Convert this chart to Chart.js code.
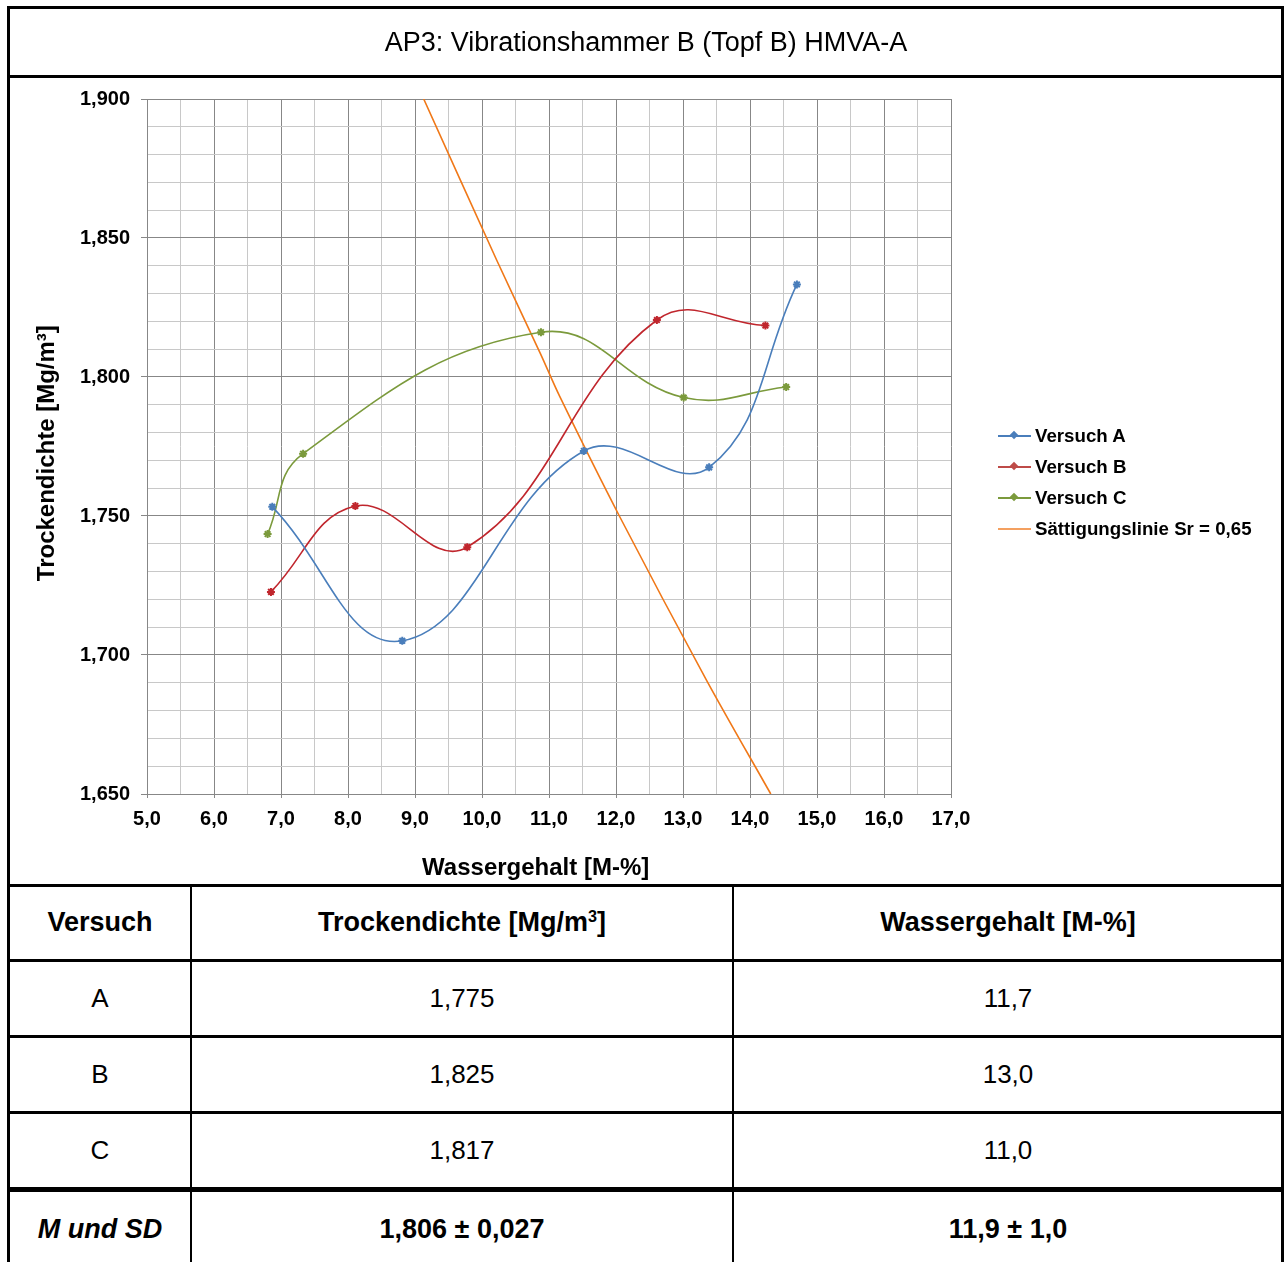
<!DOCTYPE html>
<html>
<head>
<meta charset="utf-8">
<script src="https://cdn.jsdelivr.net/npm/chart.js@4.4.1/dist/chart.umd.min.js"></script>
<style>
  html, body { margin: 0; padding: 0; background: #fff; }
  body { width: 1285px; height: 1262px; position: relative; overflow: hidden; font-family: "Liberation Sans", Arial, sans-serif; color: #000; }
  .ln { position: absolute; background: #000; }
  #chartWrap { position: absolute; left: 0; top: 0; width: 1285px; height: 884px; }
  .txt { position: absolute; transform: translate(-50%, -50%); white-space: nowrap; }
  #title { font-size: 27px; }
  .th { font-size: 27px; font-weight: bold; }
  .td { font-size: 26px; }
  .tb { font-size: 27px; font-weight: bold; }
  .leg { position: absolute; left: 998px; height: 20px; }
  .leg .line { position: absolute; left: 0; top: 9px; width: 33px; height: 2px; }
  .leg .dia { position: absolute; left: 13px; top: 6px; width: 6px; height: 6px; transform: rotate(45deg); }
  .leg .lab { position: absolute; left: 37px; top: -1px; font-size: 18.7px; font-weight: bold; white-space: nowrap; }
</style>
</head>
<body>
<div id="chartWrap"><canvas id="c" width="1285" height="884"></canvas></div>

<div class="ln" style="left:7px;top:6px;width:3px;height:1256px;"></div>
<div class="ln" style="left:1281px;top:6px;width:3px;height:1256px;"></div>
<div class="ln" style="left:7px;top:6px;width:1277px;height:3px;"></div>
<div class="ln" style="left:7px;top:75px;width:1277px;height:3px;"></div>
<div id="title" class="txt" style="left:646px;top:42px;"></div>

<div id="legend"></div>

<div class="ln" style="left:7px;top:884px;width:1277px;height:3px;"></div>
<div class="ln" style="left:7px;top:959px;width:1277px;height:3px;"></div>
<div class="ln" style="left:7px;top:1035px;width:1277px;height:3px;"></div>
<div class="ln" style="left:7px;top:1111px;width:1277px;height:3px;"></div>
<div class="ln" style="left:7px;top:1187px;width:1277px;height:5px;"></div>
<div class="ln" style="left:190px;top:884px;width:2px;height:378px;"></div>
<div class="ln" style="left:732px;top:884px;width:2px;height:378px;"></div>
<div id="table"></div>

<script>
// ---------- data ----------
const chartTitle = "AP3: Vibrationshammer B (Topf B) HMVA-A";
const xAxisTitle = "Wassergehalt [M-%]";
const yAxisTitle = "Trockendichte [Mg/m³]";

const seriesNames = ["Versuch A", "Versuch B", "Versuch C", "Sättigungslinie Sr = 0,65"];

const versuchA_x = [6.87, 8.81, 11.52, 13.39, 14.70];
const versuchA_y = [1.7533, 1.7051, 1.7734, 1.7675, 1.8333];

const versuchB_x = [6.85, 8.11, 9.78, 12.61, 14.23];
const versuchB_y = [1.7227, 1.7536, 1.7388, 1.8205, 1.8185];

const versuchC_x = [6.80, 7.33, 10.88, 13.01, 14.54];
const versuchC_y = [1.7435, 1.7724, 1.8161, 1.7926, 1.7964];

const saett_x = [9.13, 10.22, 10.87, 11.16, 12.05, 13.35, 14.31];
const saett_y = [1.900, 1.842, 1.8085, 1.793, 1.750, 1.691, 1.650];

const xMin = 5.0, xMax = 17.0, xStep = 0.5;
const yMin = 1.650, yMax = 1.900, yStep = 0.01;

const tableHeader = ["Versuch", "Trockendichte [Mg/m³]", "Wassergehalt [M-%]"];
const tableVersuch = ["A", "B", "C"];
const tableDichte = ["1,775", "1,825", "1,817"];
const tableWasser = ["11,7", "13,0", "11,0"];
const summaryRow = ["M und SD", "1,806 ± 0,027", "11,9 ± 1,0"];

// ---------- styles ----------
const colors = ["#4a7ebb", "#c0262d", "#7b9a3c", "#f07818"];
const legendColors = ["#4a7ebb", "#be4b48", "#7b9a3c", "#f4a060"];

// ---------- HTML parts ----------
document.getElementById('title').textContent = chartTitle;

const legend = document.getElementById('legend');
const legendY = [426, 457, 488, 519];
seriesNames.forEach((n, i) => {
  const d = document.createElement('div');
  d.className = 'leg';
  d.style.top = legendY[i] + 'px';
  let html = '<div class="line" style="background:' + legendColors[i] + '"></div>';
  if (i < 3) html += '<div class="dia" style="background:' + legendColors[i] + '"></div>';
  html += '<div class="lab"></div>';
  d.innerHTML = html;
  d.querySelector('.lab').textContent = n;
  legend.appendChild(d);
});

const tbl = document.getElementById('table');
const colX = [100, 462, 1008];
const rowY = [922, 998, 1074, 1150, 1229];
function addTxt(text, x, y, cls, extra) {
  const d = document.createElement('div');
  d.className = 'txt ' + cls;
  d.style.left = x + 'px'; d.style.top = y + 'px';
  if (extra) d.style.cssText += extra;
  if (text.indexOf('³') >= 0) {
    d.innerHTML = text.replace('³', '<sup style="font-size:60%;vertical-align:0.55em;line-height:0">3</sup>');
  } else d.textContent = text;
  tbl.appendChild(d);
}
tableHeader.forEach((t, i) => addTxt(t, colX[i], rowY[0], 'th'));
tableVersuch.forEach((t, r) => {
  addTxt(t, colX[0], rowY[r + 1], 'td');
  addTxt(tableDichte[r], colX[1], rowY[r + 1], 'td');
  addTxt(tableWasser[r], colX[2], rowY[r + 1], 'td');
});
addTxt(summaryRow[0], colX[0], rowY[4], 'tb', 'font-style:italic;');
addTxt(summaryRow[1], colX[1], rowY[4], 'tb');
addTxt(summaryRow[2], colX[2], rowY[4], 'tb');

// ---------- chart ----------
Chart.defaults.color = '#000';
Chart.defaults.font.family = '"Liberation Sans", Arial, sans-serif';

function pts(xs, ys) { return xs.map((x, i) => ({ x: x, y: ys[i] })); }

const isMajorX = v => Math.abs(v - Math.round(v)) < 1e-6;
const isMajorY = v => Math.abs(v * 20 - Math.round(v * 20)) < 1e-6;
const majorC = '#878787', minorC = '#c8c8c8';

const mk = (name, xs, ys, i) => ({
  label: name,
  data: pts(xs, ys),
  showLine: true,
  borderColor: colors[i],
  backgroundColor: colors[i],
  borderWidth: 1.6,
  tension: 0.42,
  pointStyle: 'star',
  pointRadius: 4,
  pointBorderWidth: 2,
  pointHoverRadius: 4,
  pointBorderColor: colors[i],
  pointBackgroundColor: colors[i]
});

new Chart(document.getElementById('c'), {
  type: 'scatter',
  data: {
    datasets: [
      mk(seriesNames[0], versuchA_x, versuchA_y, 0),
      mk(seriesNames[1], versuchB_x, versuchB_y, 1),
      mk(seriesNames[2], versuchC_x, versuchC_y, 2),
      {
        label: seriesNames[3],
        data: pts(saett_x, saett_y),
        showLine: true,
        borderColor: colors[3],
        backgroundColor: colors[3],
        borderWidth: 1.6,
        tension: 0.3,
        pointRadius: 0,
        pointHoverRadius: 0
      }
    ]
  },
  options: {
    responsive: false,
    animation: false,
    events: [],
    layout: { padding: { left: 0, top: 99, right: 334, bottom: 0 } },
    plugins: { legend: { display: false }, tooltip: { enabled: false }, title: { display: false } },
    scales: {
      x: {
        type: 'linear',
        min: xMin, max: xMax,
        afterFit: s => { s.height = 90; },
        border: { color: majorC, width: 1 },
        grid: {
          color: c => isMajorX(c.tick.value) ? majorC : minorC,
          tickColor: c => isMajorX(c.tick.value) ? majorC : 'rgba(0,0,0,0)',
          lineWidth: 1,
          tickLength: 4
        },
        ticks: {
          stepSize: xStep,
          autoSkip: false,
          maxRotation: 0,
          padding: 9,
          font: { size: 20, weight: 'bold' },
          callback: v => isMajorX(v) ? v.toFixed(1).replace('.', ',') : ''
        },
        title: {
          display: true,
          text: xAxisTitle + '\u00a0\u00a0\u00a0\u00a0',
          font: { size: 24, weight: 'bold' },
          padding: { top: 0, bottom: 1 }
        }
      },
      y: {
        type: 'linear',
        min: yMin, max: yMax,
        afterFit: s => { s.width = 147; },
        border: { color: majorC, width: 1 },
        grid: {
          color: c => isMajorY(c.tick.value) ? majorC : minorC,
          tickColor: c => isMajorY(c.tick.value) ? majorC : 'rgba(0,0,0,0)',
          lineWidth: 1,
          tickLength: 6
        },
        ticks: {
          stepSize: yStep,
          autoSkip: false,
          padding: 11,
          font: { size: 20, weight: 'bold' },
          callback: v => isMajorY(v) ? v.toFixed(3).replace('.', ',') : ''
        },
        title: {
          display: true,
          text: yAxisTitle + '\u00a0\u00a0',
          font: { size: 24, weight: 'bold' },
          padding: { top: 33, bottom: 0 }
        }
      }
    }
  }
});
</script>
</body>
</html>
